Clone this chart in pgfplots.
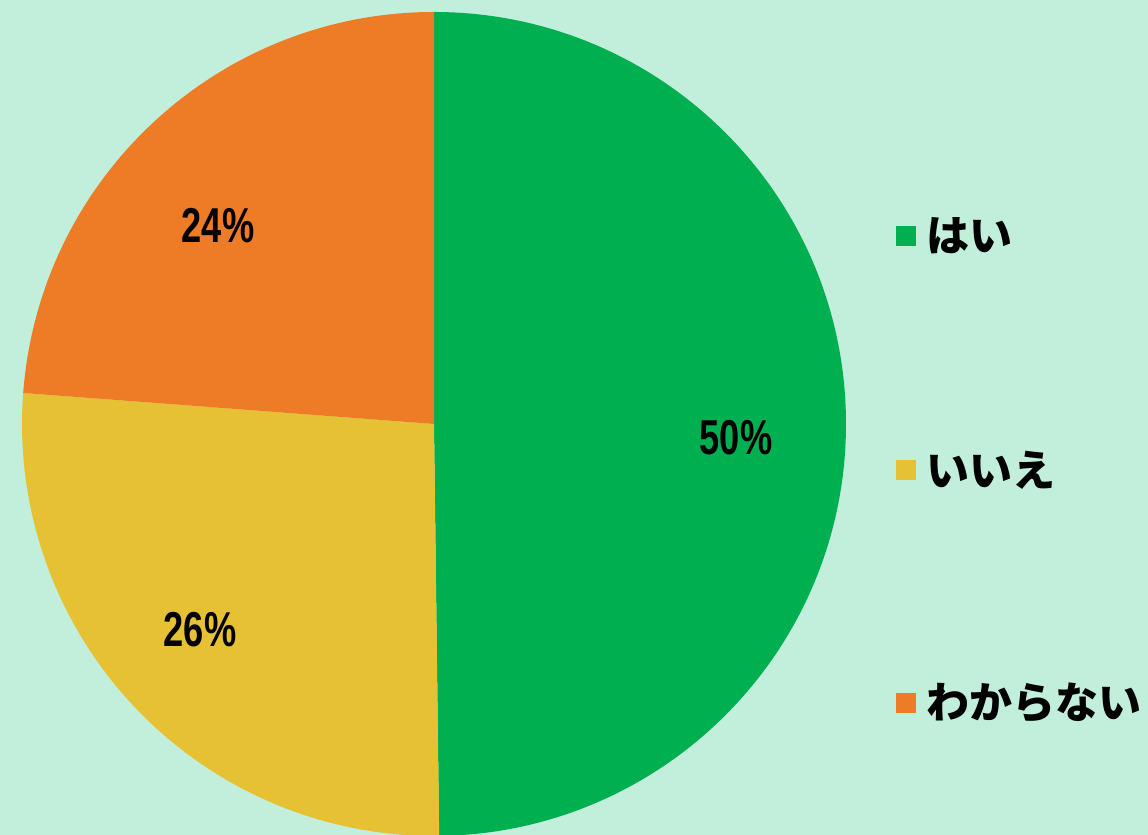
\documentclass[border=0pt]{standalone}
\usepackage{pgfplots}
\usepackage{pgfplotstable}
\pgfplotsset{compat=1.18}
\usepackage{fontspec}
\setmainfont{Liberation Sans}
\newfontfamily\jp{Noto Sans CJK JP}
\newfontfamily\pct{Liberation Sans}[FakeStretch=0.74]
\definecolor{bgc}{HTML}{C2EFDB}
\definecolor{cgreen}{HTML}{00B050}
\definecolor{cyellow}{HTML}{E6C134}
\definecolor{corange}{HTML}{EE7B25}
\pgfplotstableread{
value
49.8
26.4
23.8
}\piedata
\begin{document}
\begin{tikzpicture}
\pgfplotstablegetelem{0}{value}\of\piedata \let\va\pgfplotsretval
\pgfplotstablegetelem{1}{value}\of\piedata \let\vb\pgfplotsretval
\pgfplotstablegetelem{2}{value}\of\piedata \let\vc\pgfplotsretval
\pgfmathsetmacro\aA{90}
\pgfmathsetmacro\aB{90-3.6*\va}
\pgfmathsetmacro\aC{\aB-3.6*\vb}
\pgfmathsetmacro\aD{\aC-3.6*\vc}
\begin{axis}[scale only axis, width=574pt, height=417.5pt,
  xmin=0, xmax=1148, ymin=0, ymax=835, hide axis, clip=true]
\fill[bgc] (axis cs:0,0) rectangle (axis cs:1148,835);
\fill[cgreen] (axis cs:434,411) -- ++(\aA:206pt) arc[start angle=\aA, end angle=\aB, radius=206pt] -- cycle;
\fill[cyellow] (axis cs:434,411) -- ++(\aB:206pt) arc[start angle=\aB, end angle=\aC, radius=206pt] -- cycle;
\fill[corange] (axis cs:434,411) -- ++(\aC:206pt) arc[start angle=\aC, end angle=\aD, radius=206pt] -- cycle;
\node[font=\pct\bfseries\fontsize{24.5}{28}\selectfont] at (axis cs:736,397) {50\%};
\node[font=\pct\bfseries\fontsize{24.5}{28}\selectfont] at (axis cs:200,205) {26\%};
\node[font=\pct\bfseries\fontsize{24.5}{28}\selectfont] at (axis cs:218,609) {24\%};
\fill[cgreen] (axis cs:896,589) rectangle (axis cs:916,609);
\fill[cyellow] (axis cs:896,355) rectangle (axis cs:916,375);
\fill[corange] (axis cs:896,122) rectangle (axis cs:916,142);
\node[anchor=west, inner sep=0pt, font=\jp\bfseries\fontsize{21.5}{26}\selectfont] at (axis cs:926,599) {はい};
\node[anchor=west, inner sep=0pt, font=\jp\bfseries\fontsize{21.5}{26}\selectfont] at (axis cs:926,365) {いいえ};
\node[anchor=west, inner sep=0pt, font=\jp\bfseries\fontsize{21.5}{26}\selectfont] at (axis cs:926,132) {わからない};
\end{axis}
\end{tikzpicture}
\end{document}
